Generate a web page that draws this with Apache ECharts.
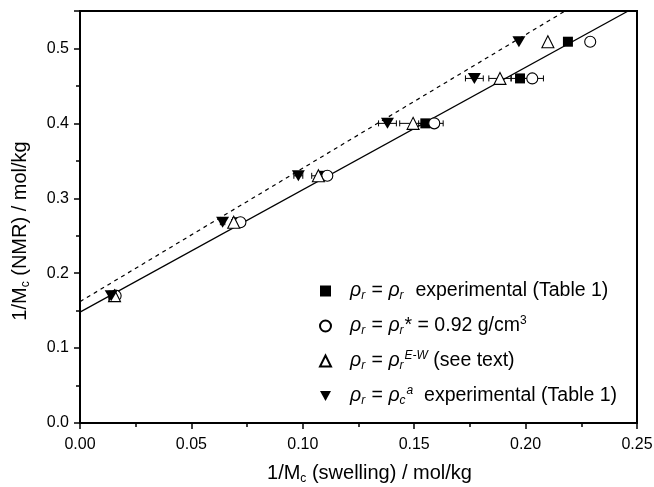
<!DOCTYPE html>
<html><head><meta charset="utf-8">
<script src="https://cdn.jsdelivr.net/npm/echarts@6/dist/echarts.min.js"></script>
<style>html,body{margin:0;padding:0;background:#fff}#c{width:654px;height:487px}</style>
</head><body><div id="c"></div>
<script>
// Data
const yVals = [0.17, 0.268, 0.33, 0.40, 0.46, 0.509];
const xExp  = [0.015, 0.0705, 0.1095, 0.155, 0.1975, 0.219];   // filled squares
const xStar = [0.016, 0.072, 0.111, 0.159, 0.203, 0.229];      // open circles
const xEW   = [0.0155, 0.069, 0.107, 0.1495, 0.1885, 0.210];   // open triangles
const xRhoC = [0.014, 0.064, 0.098, 0.138, 0.177, 0.197];      // filled down triangles
const errExp  = [0.001, 0.001, 0.001, 0.003, 0.004, 0.0];
const errStar = [0.001, 0.001, 0.002, 0.004, 0.005, 0.0];
const errEW   = [0.001, 0.001, 0.003, 0.006, 0.005, 0.0];
const errRhoC = [0.001, 0.001, 0.002, 0.004, 0.004, 0.0];
const fitSolid  = [[0, 0.148], [0.25, 0.5565]];
const fitDashed = [[0, 0.162], [0.25, 0.6075]];
const xTicks = [0.00, 0.05, 0.10, 0.15, 0.20, 0.25];
const yTicks = [0.0, 0.1, 0.2, 0.3, 0.4, 0.5];

const pts = (xs) => xs.map((x, i) => [x, yVals[i]]);
const errPts = (xs, es) => xs.map((x, i) => [x, yVals[i], es[i]]);

const font = 'Liberation Sans, Arial, sans-serif';
const downTri = 'path://M0,0 L10,0 L5,9 Z';

function errSeries(xs, es) {
  return {
    type: 'custom', silent: true, z: 1,
    data: errPts(xs, es),
    renderItem: (params, api) => {
      const e = api.value(2);
      if (!e) return null;
      const a = api.coord([api.value(0) - e, api.value(1)]);
      const b = api.coord([api.value(0) + e, api.value(1)]);
      const st = { stroke: '#000', lineWidth: 1 };
      return { type: 'group', children: [
        { type: 'line', shape: { x1: a[0], y1: a[1], x2: b[0], y2: b[1] }, style: st },
        { type: 'line', shape: { x1: a[0], y1: a[1] - 3, x2: a[0], y2: a[1] + 3 }, style: st },
        { type: 'line', shape: { x1: b[0], y1: b[1] - 3, x2: b[0], y2: b[1] + 3 }, style: st }
      ]};
    }
  };
}

const FS = 19.5;
const rich = {
  i: { fontFamily: font, fontStyle: 'italic', fontSize: FS, color: '#000', lineHeight: 22 },
  sub: { fontFamily: font, fontStyle: 'italic', fontSize: 12, color: '#000', verticalAlign: 'bottom', lineHeight: 10, padding: [0, 1, 0, 0] },
  sup: { fontFamily: font, fontStyle: 'italic', fontSize: 12, color: '#000', verticalAlign: 'top', lineHeight: 10 },
  supn: { fontFamily: font, fontSize: 12, color: '#000', verticalAlign: 'top', lineHeight: 10 },
  t: { fontFamily: font, fontSize: FS, color: '#000', lineHeight: 22 }
};
const names = ['exp', 'star', 'ew', 'rhoc'];
const labels = {
  exp:  '{i|ρ}{sub|r}{t| = }{i|ρ}{sub|r}{t|  experimental (Table 1)}',
  star: '{i|ρ}{sub|r}{t| = }{i|ρ}{sub|r}{t|* = 0.92 g/cm}{supn|3}',
  ew:   '{i|ρ}{sub|r}{t| = }{i|ρ}{sub|r}{sup|E-W}{t| (see text)}',
  rhoc: '{i|ρ}{sub|r}{t| = }{i|ρ}{sub|c}{sup|a}{t|  experimental (Table 1)}'
};
const titleRich = {
  t: { fontFamily: font, fontSize: 20, color: '#000', lineHeight: 24 },
  sub: { fontFamily: font, fontSize: 12, color: '#000', verticalAlign: 'bottom', lineHeight: 10 }
};

const chart = echarts.init(document.getElementById('c'), null, { renderer: 'canvas' });
const axisCommon = {
  axisLine: { onZero: false, lineStyle: { color: '#000', width: 2 } },
  axisTick: { show: true, inside: false, length: 6, lineStyle: { color: '#000', width: 1.5 } },
  minorTick: { show: true, splitNumber: 2, length: 4, lineStyle: { color: '#000', width: 1.5 } },
  splitLine: { show: false },
  axisLabel: { color: '#000', fontFamily: font, fontSize: 16 }
};
chart.setOption({
  animation: false,
  backgroundColor: '#fff',
  grid: { left: 80, right: 17, top: 11, bottom: 64, show: true, borderColor: '#000', borderWidth: 2, outerBoundsMode: 'none', containLabel: false },
  xAxis: Object.assign({}, axisCommon, {
    type: 'value', min: 0, max: 0.25, interval: 0.05,
    axisLabel: Object.assign({}, axisCommon.axisLabel, { margin: 14, formatter: v => v.toFixed(2) }),
    name: '{t|1/M}{sub|c}{t| (swelling) / mol/kg}',
    nameLocation: 'middle', nameGap: 38,
    nameTextStyle: { rich: titleRich, padding: [0, 0, 0, 22] }
  }),
  yAxis: Object.assign({}, axisCommon, {
    type: 'value', min: 0, max: 0.55, interval: 0.1,
    axisLabel: Object.assign({}, axisCommon.axisLabel, { margin: 11, showMaxLabel: false, formatter: v => v.toFixed(1) }),
    name: '{t|1/M}{sub|c}{t| (NMR) / mol/kg}',
    nameLocation: 'middle', nameGap: 48,
    nameTextStyle: { rich: titleRich, padding: [0, 28, 0, 0] }
  }),
  legend: {
    orient: 'vertical', left: 314, top: 276, itemGap: 13, itemWidth: 11, itemHeight: 11,
    data: names,
    formatter: n => labels[n],
    textStyle: { rich: rich, padding: [0, 0, 0, 14] },
    selectedMode: false
  },
  series: [
    { type: 'line', data: fitSolid, showSymbol: false, silent: true, lineStyle: { color: '#000', width: 1.2 }, z: 1 },
    { type: 'line', data: fitDashed, showSymbol: false, silent: true, lineStyle: { color: '#000', width: 1.2, type: [4, 4] }, z: 1 },
    errSeries(xExp, errExp), errSeries(xStar, errStar), errSeries(xEW, errEW), errSeries(xRhoC, errRhoC),
    { name: 'exp', type: 'scatter', data: pts(xExp), symbol: 'rect', symbolSize: 10, itemStyle: { color: '#000', opacity: 1 }, z: 3 },
    { name: 'star', type: 'scatter', data: pts(xStar), symbol: 'circle', symbolSize: 11, itemStyle: { color: '#fff', borderColor: '#000', borderWidth: 1.1, opacity: 1 }, z: 4 },
    { name: 'ew', type: 'scatter', data: pts(xEW), symbol: 'triangle', symbolSize: 12, itemStyle: { color: '#fff', borderColor: '#000', borderWidth: 1.1, opacity: 1 }, z: 5 },
    { name: 'rhoc', type: 'scatter', data: pts(xRhoC), symbol: downTri, symbolSize: [13, 11], itemStyle: { color: '#000', opacity: 1 }, z: 6 }
  ]
});
</script></body></html>
